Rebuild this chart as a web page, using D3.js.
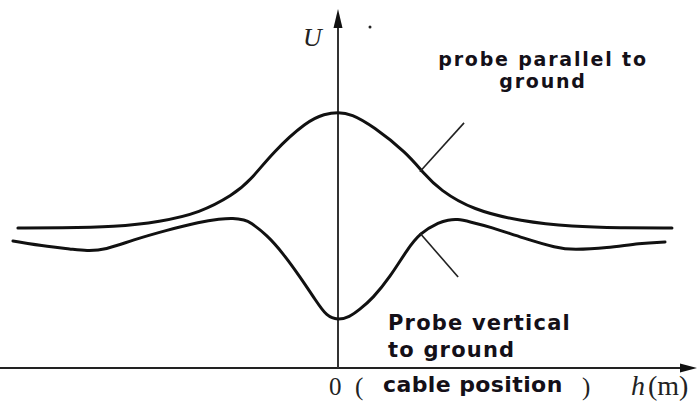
<!DOCTYPE html>
<html>
<head>
<meta charset="utf-8">
<script src="https://cdn.jsdelivr.net/npm/d3@7"></script>
<style>
  body { margin: 0; background: #fff; }
  svg { display: block; }
</style>
</head>
<body>
<div id="chart-area"></div>
<script>
// readings (h and U in arbitrary units)
const parallelH = [-9.7, -8.42, -6.76, -5.39, -4.18, -3.18, -2.67, -1.97, -0.94, -0.4, 0, 0.4, 1.06, 2.09, 2.58, 3.09, 4.09, 5.52, 7.12, 8.55, 10.12];
const parallelU = [3.89, 3.89, 3.92, 4.06, 4.31, 4.81, 5.19, 6.0, 6.86, 7.06, 7.11, 7.06, 6.72, 5.97, 5.42, 4.94, 4.39, 4.08, 3.92, 3.89, 3.89];

const verticalH = [-9.85, -8.73, -8.12, -7.61, -7.06, -6.21, -5.18, -4.18, -3.58, -3.18, -2.82, -2.67, -2.15, -1.67, -1.15, -0.64, -0.35, 0, 0.35, 0.64, 1.06, 1.58, 2.09, 2.48, 3.09, 3.33, 3.61, 4.0, 4.61, 5.61, 6.64, 7.12, 8.15, 9.15, 9.91];
const verticalU = [3.53, 3.36, 3.31, 3.25, 3.28, 3.56, 3.83, 4.06, 4.14, 4.17, 4.11, 4.06, 3.69, 3.19, 2.53, 1.83, 1.44, 1.33, 1.42, 1.61, 1.94, 2.53, 3.28, 3.75, 4.06, 4.11, 4.14, 4.06, 3.92, 3.61, 3.33, 3.28, 3.33, 3.47, 3.5];

// leader lines, [h, U] from curve to label
const parallelLeader = [[2.48, 5.45], [3.82, 6.81]];
const verticalLeader = [[2.48, 3.75], [3.64, 2.53]];

const width = 697;
const height = 405;

const svg = d3.select("#chart-area")
  .append("svg")
  .attr("width", width)
  .attr("height", height);

const x = d3.scaleLinear()
  .domain([-10, 10])
  .range([8, 668]);

const y = d3.scaleLinear()
  .domain([0, 10])
  .range([368, 8]);

const x0 = x(0);
const y0 = y(0);

// axes drawn as plain arrows
svg.append("line")
  .attr("x1", 0)
  .attr("x2", 684)
  .attr("y1", y0)
  .attr("y2", y0)
  .attr("stroke", "#222")
  .attr("stroke-width", 2);

svg.append("path")
  .attr("d", `M697,${y0} L680,${y0 - 4.5} L680,${y0 + 4.5} Z`)
  .attr("fill", "#111");

svg.append("line")
  .attr("x1", x0)
  .attr("x2", x0)
  .attr("y1", y0)
  .attr("y2", 24)
  .attr("stroke", "#333")
  .attr("stroke-width", 2);

svg.append("path")
  .attr("d", `M${x0},9 L${x0 - 4.5},28 L${x0 + 4.5},28 Z`)
  .attr("fill", "#111");

svg.append("circle")
  .attr("cx", 370)
  .attr("cy", 27)
  .attr("r", 1.5)
  .attr("fill", "#222");

const line = d3.line()
  .x(d => x(d[0]))
  .y(d => y(d[1]))
  .curve(d3.curveBasis);

const parallel = parallelH.map((h, i) => [h, parallelU[i]]);
const vertical = verticalH.map((h, i) => [h, verticalU[i]]);

[parallel, vertical].forEach(series => {
  svg.append("path")
    .datum(series)
    .attr("d", line)
    .attr("fill", "none")
    .attr("stroke", "#111")
    .attr("stroke-width", 3)
    .attr("stroke-linecap", "round")
    .attr("stroke-linejoin", "round");
});

[parallelLeader, verticalLeader].forEach(l => {
  svg.append("line")
    .attr("x1", x(l[0][0]))
    .attr("y1", y(l[0][1]))
    .attr("x2", x(l[1][0]))
    .attr("y2", y(l[1][1]))
    .attr("stroke", "#222")
    .attr("stroke-width", 1.6);
});

// labels
const sans = "'DejaVu Sans', Verdana, sans-serif";
const serif = "'Liberation Serif', 'Times New Roman', serif";

svg.append("text")
  .attr("x", 303)
  .attr("y", 46)
  .attr("font-family", serif)
  .attr("font-style", "italic")
  .attr("font-size", "26px")
  .attr("fill", "#222")
  .text("U");

const topLabel = svg.append("text")
  .attr("font-family", sans)
  .attr("font-weight", "bold")
  .attr("font-size", "19px")
  .attr("letter-spacing", "1.8px")
  .attr("text-anchor", "middle")
  .attr("fill", "#141018");

topLabel.append("tspan").attr("x", 543).attr("y", 66).text("probe parallel to");
topLabel.append("tspan").attr("x", 543).attr("y", 88).text("ground");

const bottomLabel = svg.append("text")
  .attr("font-family", sans)
  .attr("font-weight", "bold")
  .attr("font-size", "21px")
  .attr("letter-spacing", "1.2px")
  .attr("fill", "#141018");

bottomLabel.append("tspan").attr("x", 388).attr("y", 330).text("Probe vertical");
bottomLabel.append("tspan").attr("x", 388).attr("y", 357).text("to ground");

svg.append("text")
  .attr("x", 329)
  .attr("y", 395)
  .attr("font-family", serif)
  .attr("font-size", "25px")
  .attr("fill", "#222")
  .text("0");

svg.append("text")
  .attr("x", 355)
  .attr("y", 395)
  .attr("font-family", serif)
  .attr("font-size", "25px")
  .attr("fill", "#222")
  .text("(");

svg.append("text")
  .attr("x", 383)
  .attr("y", 392)
  .attr("font-family", sans)
  .attr("font-weight", "bold")
  .attr("font-size", "22px")
  .attr("letter-spacing", "0.4px")
  .attr("fill", "#141018")
  .text("cable position");

svg.append("text")
  .attr("x", 582)
  .attr("y", 395)
  .attr("font-family", serif)
  .attr("font-size", "25px")
  .attr("fill", "#222")
  .text(")");

const unit = svg.append("text")
  .attr("x", 631)
  .attr("y", 395)
  .attr("font-family", serif)
  .attr("font-size", "28px")
  .attr("fill", "#222");

unit.append("tspan").attr("font-style", "italic").text("h");
unit.append("tspan").attr("dx", 3).text("(m)");
</script>
</body>
</html>
